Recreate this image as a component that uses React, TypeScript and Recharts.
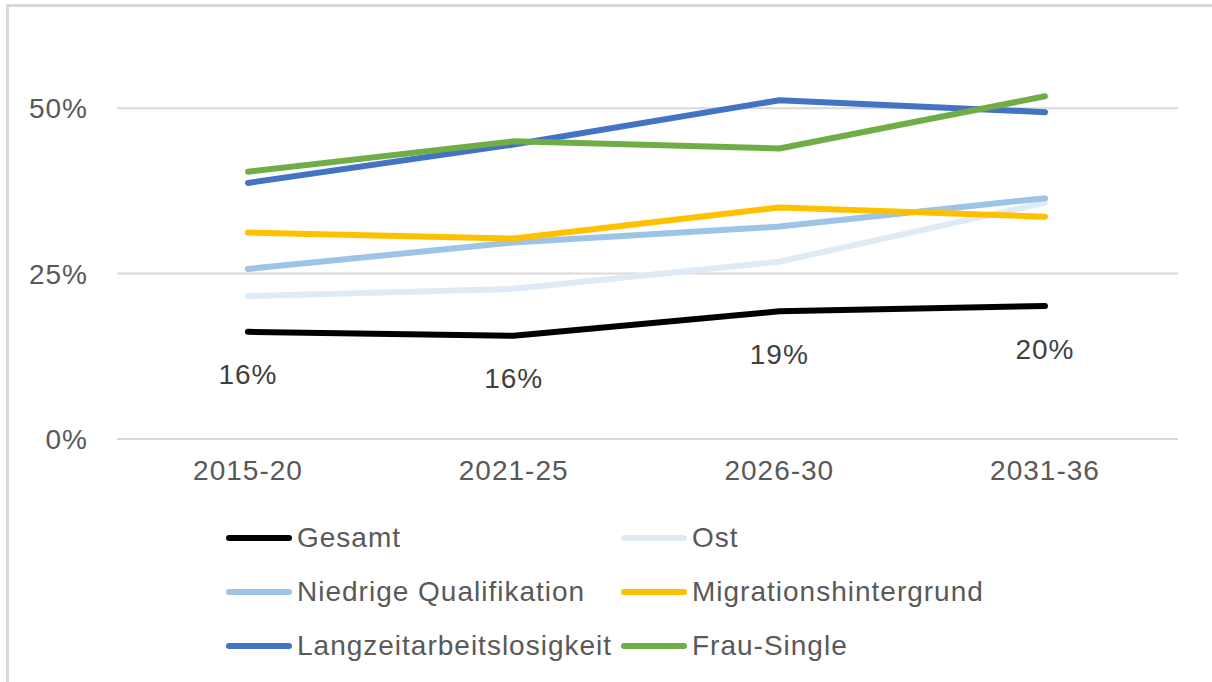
import React from 'react';
import { LineChart, Line, XAxis, YAxis, CartesianGrid, Legend, LabelList } from 'recharts';

// Anteile je Zeitraum
const periods = ['2015-20', '2021-25', '2026-30', '2031-36'];
const gesamt = [0.162, 0.156, 0.193, 0.201];
const ost = [0.216, 0.227, 0.268, 0.357];
const niedrigeQualifikation = [0.257, 0.297, 0.321, 0.364];
const migrationshintergrund = [0.312, 0.303, 0.35, 0.336];
const langzeitarbeitslosigkeit = [0.387, 0.445, 0.512, 0.494];
const frauSingle = [0.404, 0.45, 0.439, 0.518];
const yTicks = [0, 0.25, 0.5];
const Y_MAX = 0.6;

const series = [
  { key: 'gesamt', name: 'Gesamt', color: '#000000', values: gesamt },
  { key: 'ost', name: 'Ost', color: '#DEEBF7', values: ost },
  { key: 'niedrig', name: 'Niedrige Qualifikation', color: '#9DC3E6', values: niedrigeQualifikation },
  { key: 'migration', name: 'Migrationshintergrund', color: '#FFC000', values: migrationshintergrund },
  { key: 'langzeit', name: 'Langzeitarbeitslosigkeit', color: '#4472C4', values: langzeitarbeitslosigkeit },
  { key: 'frau', name: 'Frau-Single', color: '#70AD47', values: frauSingle },
];

const data = periods.map((p, i) => {
  const row: Record<string, string | number> = { period: p };
  series.forEach((s) => {
    row[s.key] = s.values[i];
  });
  return row;
});

const FONT = '"Liberation Sans", Arial, sans-serif';
const pct = (v: number) => `${Math.round(v * 100)}%`;

const GesamtLabel = (props: any) => {
  const { x, y, value } = props;
  return (
    <text
      x={x}
      y={y + 43}
      textAnchor="middle"
      dominantBaseline="central"
      fontSize={28}
      letterSpacing={1}
      fill="#404040"
      fontFamily={FONT}
    >
      {pct(value)}
    </text>
  );
};

// grid lines only at the real ticks, no line along the top of the plot
const gridLines = ({ offset }: any) =>
  yTicks.map((t) => offset.top + offset.height * (1 - t / Y_MAX));

const legendCols = [225, 620];
const legendRows = [538, 592, 646];
const LEGEND_TOP = 511;

const renderLegend = () => (
  <div style={{ position: 'relative', width: 1212, height: 160 }}>
    {series.map((s, i) => (
      <div
        key={s.key}
        style={{
          position: 'absolute',
          left: legendCols[i % 2],
          top: legendRows[Math.floor(i / 2)] - LEGEND_TOP - 18,
          height: 36,
          display: 'flex',
          alignItems: 'center',
          whiteSpace: 'nowrap',
        }}
      >
        <svg width={68} height={8} style={{ display: 'block' }}>
          <line x1={4} y1={4} x2={64} y2={4} stroke={s.color} strokeWidth={6} strokeLinecap="round" />
        </svg>
        <span style={{ fontSize: 28, letterSpacing: 1, color: '#595959', marginLeft: 4, fontFamily: FONT }}>
          {s.name}
        </span>
      </div>
    ))}
  </div>
);

const App: React.FC = () => {
  return (
    <div style={{ position: 'relative', width: 1212, height: 682, background: '#fff', fontFamily: FONT }}>
      <style>{'body{margin:0}'}</style>
      <div
        style={{
          position: 'absolute',
          left: 6,
          top: 4,
          right: 0,
          bottom: 0,
          borderTop: '3px solid #d9d9d9',
          borderLeft: '3px solid #d9d9d9',
        }}
      />
      <LineChart
        width={1212}
        height={682}
        data={data}
        margin={{ top: 42, right: 34, bottom: 183, left: 0 }}
        style={{ position: 'absolute', left: 0, top: 0 }}
      >
        <CartesianGrid
          vertical={false}
          stroke="#d9d9d9"
          strokeWidth={2}
          horizontalCoordinatesGenerator={gridLines}
        />
        <XAxis
          dataKey="period"
          height={60}
          axisLine={false}
          tickLine={false}
          tickSize={0}
          tickMargin={21}
          padding={{ left: 131, right: 133 }}
          tick={{ fontSize: 28, fill: '#595959', fontFamily: FONT, letterSpacing: 1 }}
        />
        <YAxis
          width={117}
          domain={[0, Y_MAX]}
          ticks={yTicks}
          tickFormatter={pct}
          axisLine={false}
          tickLine={false}
          tickSize={0}
          tickMargin={29}
          tick={{ fontSize: 28, fill: '#595959', fontFamily: FONT, letterSpacing: 1 }}
        />
        <Legend
          layout="horizontal"
          verticalAlign="middle"
          align="center"
          wrapperStyle={{ top: LEGEND_TOP, left: 0, width: 1212 }}
          content={renderLegend}
        />
        {series.map((s) => (
          <Line
            key={s.key}
            type="linear"
            dataKey={s.key}
            name={s.name}
            stroke={s.color}
            strokeWidth={6}
            strokeLinecap="round"
            strokeLinejoin="round"
            dot={false}
            activeDot={false}
            isAnimationActive={false}
          >
            {s.key === 'gesamt' && <LabelList dataKey="gesamt" content={GesamtLabel} />}
          </Line>
        ))}
      </LineChart>
    </div>
  );
};

export default App;
